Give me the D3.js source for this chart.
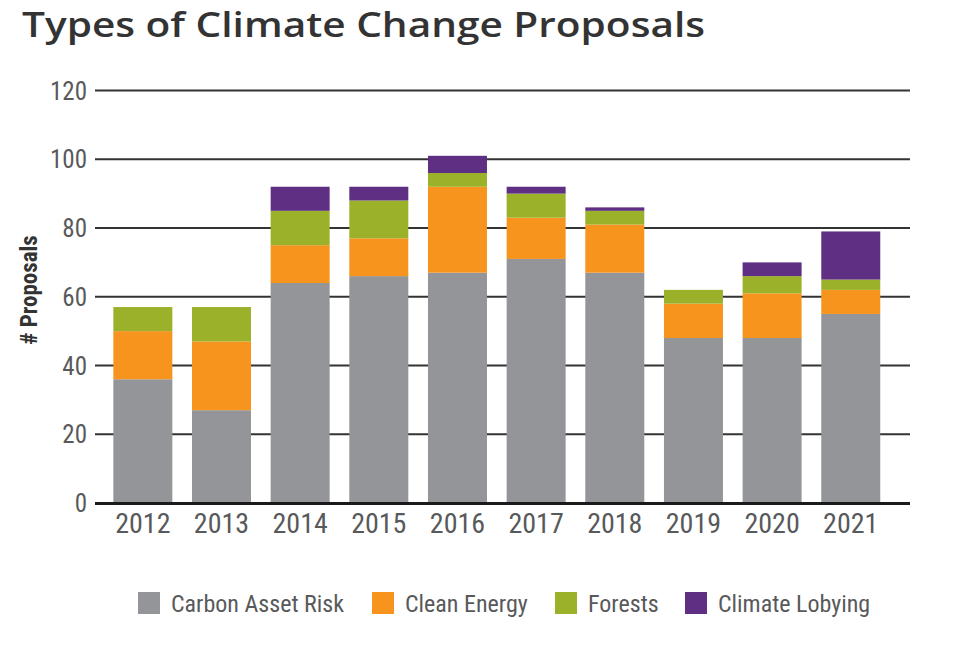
<!DOCTYPE html>
<html>
<head>
<meta charset="utf-8">
<script src="https://cdn.jsdelivr.net/npm/d3@7"></script>
<style>
  html, body { margin: 0; padding: 0; background: #ffffff; }
  svg { display: block; }
  .narrow { font-family: "Liberation Sans Narrow", "Arial Narrow", "Roboto Condensed", Roboto, sans-serif; }
</style>
</head>
<body>
<svg id="chart" width="960" height="660"></svg>
<script>
// Shareholder climate proposals by year, split by proposal type
const years = ["2012", "2013", "2014", "2015", "2016", "2017", "2018", "2019", "2020", "2021"];
const carbonAssetRisk = [36, 27, 64, 66, 67, 71, 67, 48, 48, 55];
const cleanEnergy     = [14, 20, 11, 11, 25, 12, 14, 10, 13, 7];
const forests         = [7, 10, 10, 11, 4, 7, 4, 4, 5, 3];
const climateLobbying = [0, 0, 7, 4, 5, 2, 1, 0, 4, 14];
const seriesNames = ["Carbon Asset Risk", "Clean Energy", "Forests", "Climate Lobying"];
const seriesColors = ["#939598", "#f7941d", "#9bb12a", "#5e2f83"];
const yTicks = [0, 20, 40, 60, 80, 100, 120];

const svg = d3.select("#chart");

const rows = years.map((yr, i) => ({
  year: yr,
  "Carbon Asset Risk": carbonAssetRisk[i],
  "Clean Energy": cleanEnergy[i],
  "Forests": forests[i],
  "Climate Lobying": climateLobbying[i]
}));

const stack = d3.stack().keys(seriesNames)(rows);

const x = d3.scaleBand()
  .domain(years)
  .range([103.5, 890.1])
  .paddingInner(0.25)
  .paddingOuter(0.125);

const y = d3.scaleLinear()
  .domain([0, 120])
  .range([503, 90.5]);

const color = d3.scaleOrdinal().domain(seriesNames).range(seriesColors);

// Title
svg.append("text")
  .attr("x", 22)
  .attr("y", 37)
  .attr("font-family", "'Open Sans', sans-serif")
  .attr("font-weight", 600)
  .attr("font-size", 35)
  .attr("textLength", 683)
  .attr("lengthAdjust", "spacingAndGlyphs")
  .attr("fill", "#333333")
  .text("Types of Climate Change Proposals");

// Horizontal gridlines (drawn beneath the bars)
const gridLeft = 95, gridRight = 910;
svg.append("g")
  .selectAll("line")
  .data(yTicks.filter(t => t > 0))
  .join("line")
  .attr("x1", gridLeft)
  .attr("x2", gridRight)
  .attr("y1", d => y(d))
  .attr("y2", d => y(d))
  .attr("stroke", "#333333")
  .attr("stroke-width", 2);

// Y tick labels
svg.append("g")
  .selectAll("text")
  .data(yTicks)
  .join("text")
  .attr("class", "narrow")
  .attr("x", 87)
  .attr("y", d => y(d))
  .attr("dy", "0.36em")
  .attr("text-anchor", "end")
  .attr("font-size", 25)
  .attr("fill", "#58595b")
  .text(d => d);

// Stacked bars
svg.append("g")
  .selectAll("g")
  .data(stack)
  .join("g")
  .attr("fill", d => color(d.key))
  .selectAll("rect")
  .data(d => d)
  .join("rect")
  .attr("x", d => x(d.data.year))
  .attr("width", x.bandwidth())
  .attr("y", d => y(d[1]))
  .attr("height", d => y(d[0]) - y(d[1]));

// Baseline
svg.append("line")
  .attr("x1", gridLeft)
  .attr("x2", gridRight)
  .attr("y1", y(0) + 0.5)
  .attr("y2", y(0) + 0.5)
  .attr("stroke", "#1a1a1a")
  .attr("stroke-width", 3);

// Year labels
svg.append("g")
  .selectAll("text")
  .data(years)
  .join("text")
  .attr("class", "narrow")
  .attr("x", d => x(d) + x.bandwidth() / 2)
  .attr("y", 533)
  .attr("text-anchor", "middle")
  .attr("font-size", 28)
  .attr("fill", "#58595b")
  .text(d => d);

// Y axis title
svg.append("text")
  .attr("class", "narrow")
  .attr("transform", "translate(37,290) rotate(-90)")
  .attr("text-anchor", "middle")
  .attr("font-size", 23)
  .attr("font-weight", "bold")
  .attr("fill", "#333333")
  .text("# Proposals");

// Legend
const legendItems = [
  { name: seriesNames[0], x: 138 },
  { name: seriesNames[1], x: 372 },
  { name: seriesNames[2], x: 555 },
  { name: seriesNames[3], x: 685 }
];
const legend = svg.append("g")
  .selectAll("g")
  .data(legendItems)
  .join("g")
  .attr("transform", d => `translate(${d.x},592)`);
legend.append("rect")
  .attr("width", 22)
  .attr("height", 22)
  .attr("fill", d => color(d.name));
legend.append("text")
  .attr("class", "narrow")
  .attr("x", 33)
  .attr("y", 20)
  .attr("font-size", 24)
  .attr("fill", "#58595b")
  .text(d => d.name);
</script>
</body>
</html>
